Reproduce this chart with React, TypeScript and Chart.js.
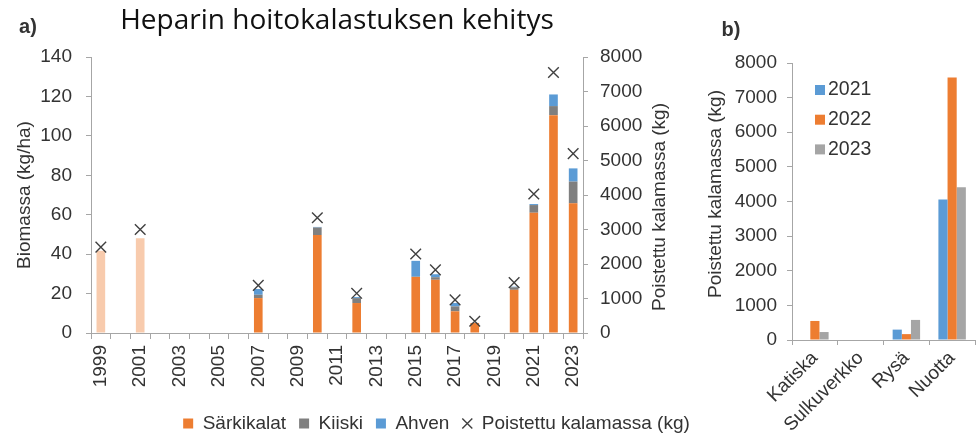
import React, { useEffect, useRef } from 'react';
import { Chart, registerables } from 'chart.js';

Chart.register(...registerables);

// ---------- DATA ----------
const years = [
  '1999', '2000', '2001', '2002', '2003', '2004', '2005', '2006', '2007', '2008',
  '2009', '2010', '2011', '2012', '2013', '2014', '2015', '2016', '2017', '2018',
  '2019', '2020', '2021', '2022', '2023',
];
const sarkikalat = [41.7, null, 48.1, null, null, null, null, null, 17.7, null, null, 49.7, null, 15.2, null, null, 28.4, 27.0, 11.0, 5.1, null, 21.9, 61.0, 110.5, 65.8];
const kiiski = [null, null, null, null, null, null, null, null, 1.7, null, null, 3.8, null, 2.5, null, null, 0.2, 1.3, 2.5, 0, null, 1.3, 3.9, 4.6, 11.0];
const ahven = [null, null, null, null, null, null, null, null, 2.9, null, null, 0.3, null, 0.5, null, null, 8.0, 1.5, 1.7, 0, null, 0.3, 0.5, 5.9, 6.7];
const poistettu = [2490, null, 3000, null, null, null, null, null, 1380, null, null, 3340, null, 1150, null, null, 2290, 1830, 960, 340, null, 1460, 4030, 7550, 5200];
const seriesNames = ['Särkikalat', 'Kiiski', 'Ahven', 'Poistettu kalamassa (kg)'];

const gearTypes = ['Katiska', 'Sulkuverkko', 'Rysä', 'Nuotta'];
const catchYears = ['2021', '2022', '2023'];
const catch2021 = [0, 0, 300, 4060];
const catch2022 = [550, 0, 170, 7580];
const catch2023 = [230, 0, 580, 4410];

// ---------- STYLE ----------
const FONT = "'Liberation Sans', Arial, sans-serif";
const TEXT = '#333333';
const AXIS = '#A6A6A6';
const ORANGE = '#ED7D31';
const LIGHT_ORANGE = '#F8CBAD';
const DARK_GRAY = '#7F7F7F';
const BLUE = '#5B9BD5';
const LIGHT_GRAY = '#A5A5A5';
const MARK = '#404040';
const seriesColors = [ORANGE, DARK_GRAY, BLUE, MARK];
const catchColors = [BLUE, ORANGE, LIGHT_GRAY];

type TextItem = {
  text: string; x: number; y: number; font: string; rotation?: number;
  align?: CanvasTextAlign; box?: { x: number; y: number; w: number; h: number; color: string };
};

function makeTextPlugin(id: string, items: TextItem[]) {
  return {
    id,
    afterDraw(chart: any) {
      const ctx: CanvasRenderingContext2D = chart.ctx;
      items.forEach((it) => {
        ctx.save();
        if (it.box) {
          ctx.fillStyle = it.box.color;
          ctx.fillRect(it.box.x, it.box.y, it.box.w, it.box.h);
        }
        ctx.translate(it.x, it.y);
        if (it.rotation) ctx.rotate(it.rotation);
        ctx.font = it.font;
        ctx.fillStyle = TEXT;
        ctx.textAlign = it.align || 'center';
        ctx.textBaseline = 'middle';
        ctx.fillText(it.text, 0, 0);
        ctx.restore();
      });
    },
  };
}

const plainNumber = (v: any) => String(v);

export default function App() {
  const refA = useRef<HTMLCanvasElement>(null);
  const refB = useRef<HTMLCanvasElement>(null);

  useEffect(() => {
    const tickFont = { family: FONT, size: 19 };

    const chartA = new Chart(refA.current!, {
      type: 'bar',
      data: {
        labels: years,
        datasets: [
          {
            label: seriesNames[0], data: sarkikalat as any, yAxisID: 'y', order: 1,
            backgroundColor: (c: any) => (c.dataIndex !== undefined && Number(years[c.dataIndex]) < 2005 ? LIGHT_ORANGE : ORANGE),
            barPercentage: 0.44, categoryPercentage: 1,
          },
          { label: seriesNames[1], data: kiiski as any, yAxisID: 'y', order: 1, backgroundColor: DARK_GRAY, barPercentage: 0.44, categoryPercentage: 1 },
          { label: seriesNames[2], data: ahven as any, yAxisID: 'y', order: 1, backgroundColor: BLUE, barPercentage: 0.44, categoryPercentage: 1 },
          {
            type: 'line', label: seriesNames[3], data: poistettu as any, yAxisID: 'y2', order: 0,
            showLine: false, pointStyle: 'crossRot', pointRadius: 7.5, pointBorderWidth: 1.4,
            pointBorderColor: MARK, borderColor: MARK, pointBackgroundColor: 'transparent',
          } as any,
        ],
      },
      options: {
        responsive: false,
        animation: false,
        events: [],
        layout: { padding: { left: 0, right: 0, top: 0, bottom: -6 } },
        plugins: {
          title: {
            display: true, text: 'Heparin hoitokalastuksen kehitys', fullSize: false,
            font: { family: "'Open Sans', sans-serif", size: 28, weight: 'normal', lineHeight: 1.2 },
            color: '#111', padding: { top: 4, bottom: 19.4 },
          },
          legend: {
            position: 'bottom',
            labels: {
              usePointStyle: true, boxWidth: 10, boxHeight: 10, padding: 13,
              font: tickFont, color: TEXT,
              generateLabels: (chart: any) => chart.data.datasets.map((ds: any, i: number) => ({
                text: ds.label,
                fillStyle: i === 3 ? 'rgba(0,0,0,0)' : seriesColors[i],
                strokeStyle: seriesColors[i],
                lineWidth: i === 3 ? 1.4 : 0,
                pointStyle: i === 3 ? 'crossRot' : 'rect',
                hidden: false, datasetIndex: i, fontColor: TEXT,
              })),
            },
          },
          tooltip: { enabled: false },
        },
        scales: {
          x: {
            stacked: true,
            grid: { display: true, drawOnChartArea: false, drawTicks: true, tickLength: 6, color: AXIS, offset: true },
            border: { display: true, color: AXIS, width: 1 },
            ticks: {
              autoSkip: false, minRotation: 90, maxRotation: 90, padding: 6, font: tickFont, color: TEXT,
              callback: (_v: any, i: number) => (i % 2 === 0 ? years[i] : ''),
            },
            afterFit: (s: any) => { s.height = 68; },
          },
          y: {
            stacked: true, position: 'left', min: 0, max: 140,
            ticks: { stepSize: 20, padding: 14, font: tickFont, color: TEXT, callback: plainNumber },
            grid: { drawOnChartArea: false, tickLength: 5, color: AXIS },
            border: { display: true, color: AXIS, width: 1 },
            title: { display: true, text: 'Biomassa (kg/ha)', font: tickFont, color: TEXT, padding: { top: 13, bottom: 0 } },
            afterFit: (s: any) => { s.width = 91; },
          },
          y2: {
            position: 'right', min: 0, max: 8000,
            ticks: { stepSize: 1000, padding: 12, font: tickFont, color: TEXT, callback: plainNumber },
            grid: { drawOnChartArea: false, tickLength: 5, color: AXIS },
            border: { display: true, color: AXIS, width: 1 },
            afterFit: (s: any) => { s.width = 290; },
          },
        },
      } as any,
      plugins: [
        makeTextPlugin('textsA', [
          { text: 'a)', x: 28, y: 27, font: `bold 20px ${FONT}` },
          { text: 'Poistettu kalamassa (kg)', x: 660, y: 207, font: `19px ${FONT}`, rotation: -Math.PI / 2 },
        ]),
      ],
    });

    const legendItems: TextItem[] = catchYears.map((yr, i) => ({
      text: yr, x: 138, y: 90 + i * 29.7, font: `19.5px ${FONT}`, align: 'left' as CanvasTextAlign,
      box: { x: 125, y: 85 + i * 29.7, w: 10, h: 10, color: catchColors[i] },
    }));

    const chartB = new Chart(refB.current!, {
      type: 'bar',
      data: {
        labels: gearTypes,
        datasets: [
          { label: catchYears[0], data: catch2021, backgroundColor: catchColors[0] },
          { label: catchYears[1], data: catch2022, backgroundColor: catchColors[1] },
          { label: catchYears[2], data: catch2023, backgroundColor: catchColors[2] },
        ],
      },
      options: {
        responsive: false,
        animation: false,
        events: [],
        layout: { padding: { top: 63, right: 3, left: 0, bottom: 0 } },
        datasets: { bar: { categoryPercentage: 0.6, barPercentage: 1 } },
        plugins: { legend: { display: false }, title: { display: false }, tooltip: { enabled: false } },
        scales: {
          x: {
            grid: { display: true, drawOnChartArea: false, drawTicks: true, tickLength: 5, color: AXIS, offset: true },
            border: { display: true, color: AXIS, width: 1 },
            ticks: { autoSkip: false, minRotation: 45, maxRotation: 45, padding: 2, font: tickFont, color: TEXT },
            afterFit: (s: any) => { s.height = 97; },
          },
          y: {
            min: 0, max: 8000,
            ticks: { stepSize: 1000, padding: 10, font: tickFont, color: TEXT, callback: plainNumber },
            grid: { drawOnChartArea: false, tickLength: 5, color: AXIS },
            border: { display: true, color: AXIS, width: 1 },
            afterFit: (s: any) => { s.width = 102; },
          },
        },
      } as any,
      plugins: [
        makeTextPlugin('textsB', [
          { text: 'b)', x: 41, y: 30, font: `bold 20px ${FONT}` },
          { text: 'Poistettu kalamassa (kg)', x: 26, y: 194, font: `19px ${FONT}`, rotation: -Math.PI / 2 },
          ...legendItems,
        ]),
      ],
    });

    return () => {
      chartA.destroy();
      chartB.destroy();
    };
  }, []);

  return (
    <div style={{ position: 'fixed', left: 0, top: 0, width: 978, height: 437, overflow: 'hidden', background: '#fff' }}>
      <canvas ref={refA} width={873} height={437} style={{ position: 'absolute', left: 0, top: 0, width: 873, height: 437 }} />
      <canvas ref={refB} width={288} height={437} style={{ position: 'absolute', left: 690, top: 0, width: 288, height: 437 }} />
    </div>
  );
}
